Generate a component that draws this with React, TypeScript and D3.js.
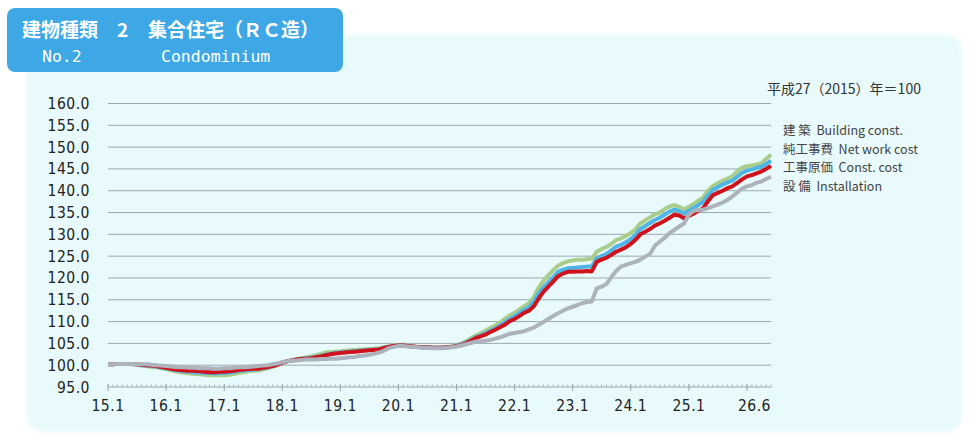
import * as d3 from "d3";

// monthly index values, 2015.1 – 2026.6 (2015 = 100)
const startDate = new Date(2015, 0, 1);
const endDate = new Date(2026, 5, 1);

const building = [
  100.2, 100.2, 100.3, 100.3, 100.3, 100.3, 100.2, 100.1, 100.0, 99.9, 99.8, 99.6,
  99.4, 99.2, 99.0, 98.9, 98.8, 98.7, 98.7, 98.6, 98.5, 98.4, 98.4, 98.5,
  98.5, 98.6, 98.7, 98.9, 99.0, 99.1, 99.2, 99.2, 99.4, 99.6, 99.8, 100.1,
  100.6, 100.9, 101.1, 101.3, 101.4, 101.5, 101.6, 101.8, 102.0, 102.3, 102.5, 102.7,
  102.8, 102.9, 103.0, 103.1, 103.2, 103.3, 103.4, 103.5, 103.6, 103.9, 104.2, 104.4,
  104.5, 104.5, 104.4, 104.3, 104.2, 104.1, 104.1, 104.0, 104.0, 104.0, 104.1, 104.2,
  104.4, 104.6, 105.0, 105.6, 106.2, 106.6, 107.0, 107.6, 108.1, 108.7, 109.3, 110.1,
  110.6, 111.3, 112.0, 112.5, 113.5, 115.3, 116.8, 118.0, 119.2, 120.4, 121.0, 121.4,
  121.4, 121.5, 121.5, 121.6, 121.5, 123.7, 124.2, 124.6, 125.3, 126.0, 126.5, 127.0,
  127.8, 128.8, 130.0, 130.6, 131.2, 132.0, 132.5, 133.1, 133.8, 134.5, 134.3, 133.7,
  134.2, 134.8, 135.4, 136.0, 137.6, 139.0, 139.5, 140.0, 140.6, 141.0, 141.8, 142.6,
  143.3, 143.6, 144.0, 144.4, 145.0, 145.7,
];

const netWork = [
  100.2, 100.2, 100.3, 100.3, 100.3, 100.3, 100.2, 100.0, 99.9, 99.8, 99.7, 99.5,
  99.3, 99.1, 98.9, 98.7, 98.6, 98.5, 98.4, 98.3, 98.2, 98.2, 98.1, 98.2,
  98.2, 98.3, 98.5, 98.7, 98.8, 98.9, 99.0, 99.1, 99.3, 99.5, 99.8, 100.1,
  100.6, 100.9, 101.1, 101.3, 101.4, 101.6, 101.7, 101.9, 102.1, 102.4, 102.6, 102.8,
  102.9, 103.0, 103.1, 103.2, 103.3, 103.4, 103.5, 103.6, 103.7, 104.0, 104.2, 104.4,
  104.5, 104.5, 104.4, 104.3, 104.2, 104.1, 104.1, 104.0, 104.0, 104.0, 104.1, 104.2,
  104.5, 104.8, 105.2, 105.8, 106.4, 106.8, 107.3, 107.9, 108.4, 109.1, 109.8, 110.6,
  111.2, 112.0, 112.7, 113.3, 114.5, 116.5, 117.8, 119.0, 120.2, 121.4, 121.9, 122.2,
  122.3, 122.4, 122.5, 122.6, 122.6, 124.5, 125.0, 125.5, 126.3, 127.2, 127.6, 128.2,
  128.9, 129.9, 131.2, 131.9, 132.6, 133.3, 133.8, 134.5, 135.2, 135.7, 135.3, 134.8,
  135.4, 136.1, 136.7, 137.5, 139.0, 140.2, 140.8, 141.4, 141.9, 142.3, 143.2, 144.1,
  144.6, 144.9, 145.2, 145.5, 146.1, 146.9,
];

const constCost = [
  100.2, 100.2, 100.3, 100.3, 100.3, 100.2, 100.1, 99.9, 99.8, 99.6, 99.5, 99.3,
  99.1, 98.8, 98.6, 98.4, 98.2, 98.1, 98.0, 97.9, 97.8, 97.7, 97.7, 97.7,
  97.7, 97.8, 98.0, 98.2, 98.4, 98.6, 98.7, 98.8, 99.0, 99.3, 99.6, 100.0,
  100.5, 100.9, 101.1, 101.4, 101.6, 101.8, 102.0, 102.3, 102.6, 102.9, 103.0, 103.1,
  103.2, 103.3, 103.4, 103.5, 103.6, 103.6, 103.7, 103.8, 103.9, 104.1, 104.3, 104.5,
  104.6, 104.5, 104.4, 104.3, 104.2, 104.1, 104.1, 104.0, 104.0, 104.0, 104.1, 104.3,
  104.6, 105.0, 105.5, 106.2, 106.8, 107.3, 107.9, 108.5, 109.1, 109.8, 110.6, 111.4,
  112.0, 112.8, 113.5, 114.2, 115.6, 117.8, 119.3, 120.6, 121.8, 122.8, 123.4, 123.8,
  124.0, 124.2, 124.2, 124.3, 124.4, 126.0, 126.6, 127.1, 127.8, 128.7, 129.1, 129.6,
  130.3, 131.2, 132.5, 133.2, 133.9, 134.6, 135.0, 135.8, 136.4, 136.7, 136.3, 135.7,
  136.3, 137.0, 137.7, 138.5, 140.0, 141.1, 141.7, 142.3, 142.8, 143.3, 144.4, 145.3,
  145.6, 145.8, 146.0, 146.3, 147.3, 148.3,
];

const installation = [
  100.2, 100.2, 100.3, 100.3, 100.3, 100.3, 100.3, 100.2, 100.2, 100.1, 100.0, 99.9,
  99.8, 99.7, 99.6, 99.5, 99.5, 99.4, 99.4, 99.3, 99.3, 99.3, 99.2, 99.2,
  99.3, 99.3, 99.4, 99.5, 99.5, 99.6, 99.7, 99.8, 99.9, 100.0, 100.2, 100.4,
  100.7, 100.9, 101.0, 101.1, 101.2, 101.3, 101.3, 101.3, 101.4, 101.4, 101.5, 101.5,
  101.6, 101.7, 101.8, 101.9, 102.1, 102.2, 102.4, 102.6, 102.9, 103.3, 103.9, 104.2,
  104.4, 104.4, 104.3, 104.2, 104.1, 104.0, 104.0, 103.9, 103.9, 103.9, 104.0, 104.1,
  104.3, 104.5, 104.8, 105.1, 105.4, 105.5, 105.6, 105.8, 106.1, 106.4, 106.8, 107.2,
  107.4, 107.6, 107.8, 108.2, 108.6, 109.3, 109.9, 110.6, 111.3, 111.9, 112.5, 113.0,
  113.4, 113.8, 114.2, 114.5, 114.6, 117.6, 118.0, 118.6, 120.2, 121.6, 122.6, 123.0,
  123.4, 123.7, 124.2, 124.9, 125.5, 127.4, 128.3, 129.2, 130.3, 131.0, 131.8, 132.5,
  134.5, 135.4, 135.6, 135.7, 136.0, 136.4, 136.8, 137.3, 137.9, 138.7, 139.6, 140.5,
  141.0, 141.3, 141.8, 142.1, 142.7, 143.2,
];

const yTicks = d3.range(95, 160.1, 5);
const xTickYears = d3.range(2015, 2027);
const xLabels = ["15.1", "16.1", "17.1", "18.1", "19.1", "20.1", "21.1", "22.1", "23.1", "24.1", "25.1"];
const lastLabel = "26.6";

const legend = [
  "建 築  Building const.",
  "純工事費  Net work cost",
  "工事原価  Const. cost",
  "設 備  Installation",
];

// drawing order: bottom first
const series = [
  { name: "工事原価", values: constCost, color: "#a9cd8a" },
  { name: "純工事費", values: netWork, color: "#4fb4e6" },
  { name: "建築", values: building, color: "#d0121c" },
  { name: "設備", values: installation, color: "#adb3bc" },
];

const W = 972;
const H = 440;
const plot = { left: 108, right: 771, top: 103.5, bottom: 387 };
const numFont = "'Liberation Sans Narrow', 'DejaVu Sans Condensed', sans-serif";
const jpFont = "'Noto Sans CJK JP', 'Noto Sans', sans-serif";

export default function App() {
  const x = d3.scaleTime().domain([startDate, endDate]).range([plot.left, plot.right]);
  const y = d3.scaleLinear().domain([95, 160]).range([plot.bottom, plot.top]);

  const months = d3.timeMonth.range(startDate, d3.timeMonth.offset(endDate, 1));
  const line = d3
    .line<number>()
    .x((_, i) => x(months[i]!))
    .y((v) => y(v));

  return (
    <div style={{ position: "absolute", left: 0, top: 0 }}>
      <svg width={W} height={H} style={{ display: "block", background: "#fff" }}>
        <defs>
          <filter id="soft" x="-5%" y="-5%" width="110%" height="110%">
            <feGaussianBlur stdDeviation="2" />
          </filter>
        </defs>
        {/* panel */}
        <rect x={27} y={35} width={935} height={397} rx={16} fill="#e8fafc" filter="url(#soft)" />

        {/* title box */}
        <rect x={7} y={8} width={336} height={64} rx={8} fill="#3ea8e6" />
        <text fill="#fff" fontFamily={jpFont} fontWeight={700} fontSize={19}>
          <tspan x={22} y={37}>建物種類</tspan>
          <tspan x={117} y={37}>2</tspan>
          <tspan x={148} y={37}>集合住宅（ＲＣ造）</tspan>
        </text>
        <text fill="#fff" fontFamily="'DejaVu Sans Mono', monospace" fontSize={16.5}>
          <tspan x={42} y={62}>No.2</tspan>
          <tspan x={161} y={62}>Condominium</tspan>
        </text>

        {/* gridlines */}
        {yTicks.map((t) => (
          <line
            key={`g-${t}`}
            x1={plot.left}
            x2={plot.right}
            y1={y(t)}
            y2={y(t)}
            stroke="#9aa9ae"
            strokeWidth={1}
          />
        ))}
        {/* monthly minor ticks */}
        {months.map((d, i) => (
          <line
            key={`m-${i}`}
            x1={x(d)}
            x2={x(d)}
            y1={y(95) - 2.5}
            y2={y(95)}
            stroke="#9aa9ae"
            strokeWidth={0.8}
          />
        ))}
        {/* yearly ticks */}
        {xTickYears.map((yr) => (
          <line
            key={`t-${yr}`}
            x1={x(new Date(yr, 0, 1))}
            x2={x(new Date(yr, 0, 1))}
            y1={y(95) - 3}
            y2={y(95) + 4}
            stroke="#9aa9ae"
            strokeWidth={1}
          />
        ))}

        {/* y labels */}
        {yTicks.map((t) => (
          <text
            key={`yl-${t}`}
            x={90}
            y={y(t) + 5.5}
            textAnchor="end"
            fontFamily={numFont}
            fontSize={15.5}
            letterSpacing={0.5}
            fill="#222"
          >
            {t.toFixed(1)}
          </text>
        ))}
        {/* x labels */}
        {xLabels.map((l, i) => (
          <text
            key={`xl-${l}`}
            x={x(new Date(2015 + i, 0, 1))}
            y={411}
            textAnchor="middle"
            fontFamily={numFont}
            fontSize={15.5}
            letterSpacing={0.5}
            fill="#222"
          >
            {l}
          </text>
        ))}
        <text
          x={x(endDate)}
          y={411}
          textAnchor="end"
          fontFamily={numFont}
          fontSize={15.5}
          letterSpacing={0.5}
          fill="#222"
        >
          {lastLabel}
        </text>

        {/* lines */}
        {series.map((s) => (
          <path
            key={s.name}
            d={line(s.values) ?? ""}
            fill="none"
            stroke={s.color}
            strokeWidth={4}
            strokeLinejoin="round"
          />
        ))}

        {/* base note and legend */}
        <text x={767} y={94} fontFamily={jpFont} fontSize={14} fill="#333">
          平成27（2015）年＝100
        </text>
        {legend.map((l, i) => (
          <text
            key={l}
            x={783}
            y={135 + i * 18.6}
            fontFamily={jpFont}
            fontSize={12.5}
            fill="#444"
            style={{ whiteSpace: "pre" }}
          >
            {l}
          </text>
        ))}
      </svg>
    </div>
  );
}
